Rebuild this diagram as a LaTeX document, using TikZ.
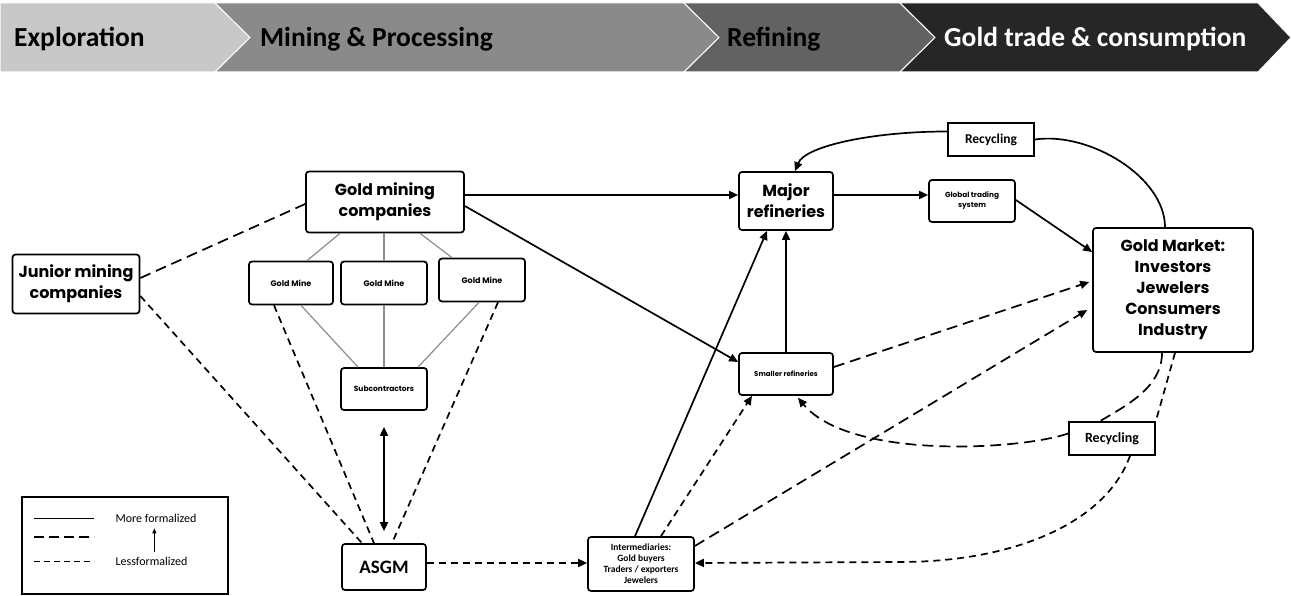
\documentclass[tikz,border=0pt]{standalone}
\usepackage{fontspec}
\setmainfont{Carlito}
\newfontfamily\geo{Poppins}
\usetikzlibrary{arrows.meta,calc}
\definecolor{bandA}{HTML}{C8C8C8}
\definecolor{bandB}{HTML}{8A8A8A}
\definecolor{bandC}{HTML}{626262}
\definecolor{bandD}{HTML}{262626}
\definecolor{linkgray}{HTML}{8C8C8C}
\tikzset{
  box/.style={draw, line width=1.7pt, rounded corners=3pt, align=center, inner sep=0pt},
  plainbox/.style={draw, line width=1.7pt, align=center, inner sep=0pt},
  band/.style={draw=white, line width=1pt},
  bandtext/.style={anchor=base west, inner sep=0pt, font=\fontsize{27.5}{32}\selectfont\bfseries},
  flow/.style={line width=1.7pt},
  tip/.style={-{Triangle[length=9pt,width=8pt]}},
  longdash/.style={line width=1.7pt, dash pattern=on 11pt off 6pt},
  shortdash/.style={line width=1.7pt, dash pattern=on 7pt off 5pt},
  mineline/.style={linkgray, line width=1.2pt},
}
\begin{document}
\begin{tikzpicture}[x=1pt,y=-1pt]
\useasboundingbox (0,0) rectangle (1291,596);

% value-chain banner
\fill[bandA, band] (0,3) -- (215,3) -- (250,37.5) -- (215,72) -- (0,72) -- cycle;
\fill[bandB, band] (215,3) -- (684,3) -- (719,37.5) -- (684,72) -- (215,72) -- (250,37.5) -- cycle;
\fill[bandC, band] (684,3) -- (900,3) -- (935,37.5) -- (900,72) -- (684,72) -- (719,37.5) -- cycle;
\fill[bandD, band] (900,3) -- (1258,3) -- (1291,37.5) -- (1258,72) -- (900,72) -- (935,37.5) -- cycle;
\node[bandtext] (t1) at (14,46.5) {Exploration};
\node[bandtext] (t2) at (260,46.5) {Mining \& Processing};
\node[bandtext] (t3) at (727,46.5) {Refining};
\node[bandtext, text=white] (t4) at (944,46.5) {Gold trade \& consumption};

% actors
\node[box, minimum width=127pt, minimum height=59pt, font=\geo\fontsize{16}{21}\selectfont\bfseries] (junior) at (76,284) {Junior mining\\companies};
\node[box, minimum width=158pt, minimum height=61pt, font=\geo\fontsize{16}{21}\selectfont\bfseries] (gmc) at (385,202) {Gold mining\\companies};
\node[box, minimum width=84pt, minimum height=43pt, font=\geo\fontsize{8}{10}\selectfont\bfseries] (mine1) at (291,283) {Gold Mine};
\node[box, minimum width=86pt, minimum height=43pt, font=\geo\fontsize{8}{10}\selectfont\bfseries] (mine2) at (384,283) {Gold Mine};
\node[box, minimum width=86pt, minimum height=43pt, font=\geo\fontsize{8}{10}\selectfont\bfseries] (mine3) at (482,280) {Gold Mine};
\node[box, minimum width=86pt, minimum height=42pt, font=\geo\fontsize{7.5}{9}\selectfont\bfseries] (sub) at (384,389) {Subcontractors};
\node[box, minimum width=84pt, minimum height=46pt, font=\fontsize{19}{22}\selectfont\bfseries] (asgm) at (384,567) {ASGM};
\node[box, minimum width=106pt, minimum height=54pt, font=\fontsize{9.5}{11}\selectfont\bfseries] (inter) at (641,564) {Intermediaries:\\Gold buyers\\Traders / exporters\\Jewelers};
\node[box, minimum width=94pt, minimum height=58pt, font=\geo\fontsize{16}{21}\selectfont\bfseries] (major) at (786,201) {Major\\refineries};
\node[box, minimum width=94pt, minimum height=42pt, font=\geo\fontsize{7}{9}\selectfont\bfseries] (smaller) at (786,374) {Smaller refineries};
\node[box, minimum width=86pt, minimum height=42pt, font=\geo\fontsize{7.3}{10}\selectfont\bfseries] (gts) at (972,201) {Global trading\\system};
\node[plainbox, minimum width=86pt, minimum height=33pt, font=\fontsize{13.5}{16}\selectfont\bfseries] (rec1) at (991,139.5) {Recycling};
\node[box, minimum width=160pt, minimum height=124pt, font=\geo\fontsize{16}{21}\selectfont\bfseries] (market) at (1173,290) {Gold Market:\\Investors\\Jewelers\\Consumers\\Industry};
\node[plainbox, minimum width=86pt, minimum height=33pt, font=\fontsize{14}{16}\selectfont\bfseries] (rec2) at (1112,438.5) {Recycling};

% ownership links between companies, mines and subcontractors
\draw[mineline] ($(gmc.south)+(-45,0)$) -- ($(mine1.north)+(16,0)$);
\draw[mineline] (mine2.north |- gmc.south) -- (mine2.north);
\draw[mineline] ($(gmc.south)+(35,0)$) -- ($(mine3.north)+(-30,0)$);
\draw[mineline] ($(mine1.south)+(10,0)$) -- ($(sub.north)+(-26,0)$);
\draw[mineline] (mine2.south) -- (sub.north);
\draw[mineline] ($(mine3.south)+(-3,0)$) -- ($(sub.north)+(34,0)$);

% formal flows
\draw[flow, tip] ($(gmc.east)+(0,-7)$) -- ($(major.west)+(0,-6)$);
\draw[flow, tip] ($(gmc.east)+(0,4)$) -- ($(smaller.west)+(0,-12)$);
\draw[flow, tip] ($(major.east)+(0,-6)$) -- ($(gts.west)+(0,-6)$);
\draw[flow, tip] ($(gts.east)+(0,-1)$) -- ($(market.west)+(0,-38)$);
\draw[flow, tip] (smaller.north) -- (major.south);
\draw[flow, tip] ($(inter.north)+(-6,0)$) -- ($(major.south)+(-19,0)$);
\draw[flow, {Triangle[length=9pt,width=8pt]}-{Triangle[length=9pt,width=8pt]}] ($(sub.south)+(0,16)$) -- ($(asgm.north)+(0,-12)$);
\draw[flow] ($(market.north)+(-8,0)$) .. controls +(0,-50) and +(55,-8) .. (rec1.east);
\draw[flow, tip] ($(rec1.west)+(0,-8)$) .. controls +(-75,0) and +(10,-25) .. ($(major.north)+(9,0)$);

% partly formal flows
\draw[longdash] ($(junior.east)+(0,-6)$) -- ($(gmc.west)+(0,2)$);
\draw[longdash, tip] ($(smaller.east)+(0,-7)$) -- ($(market.west)+(-3,-8)$);
\draw[longdash, tip] ($(inter.east)+(0,-18)$) -- ($(market.west)+(-5,20)$);
\draw[longdash] ($(market.south)+(-11,0)$) .. controls +(0,35) and +(25,-15) .. ($(rec2.north)+(-12,0)$);
\draw[longdash, tip] ($(rec2.west)+(0,-5)$) .. controls (1020,450) and (850,460) .. ($(smaller.south)+(12,2)$);

% informal flows
\draw[shortdash] ($(junior.east)+(0,12)$) -- ($(asgm.north)+(-22,0)$);
\draw[shortdash] ($(mine1.south)+(-17,0)$) -- ($(asgm.north)+(-10,0)$);
\draw[shortdash] ($(mine3.south)+(16,0)$) -- ($(asgm.north)+(8,0)$);
\draw[shortdash, tip] ($(asgm.east)+(0,-4)$) -- ($(asgm.east -| inter.west)+(0,-4)$);
\draw[shortdash, tip] ($(inter.north)+(20,0)$) -- ($(smaller.south)+(-34,0)$);
\draw[shortdash] ($(market.south)+(2,0)$) -- (rec2.north east);
\draw[shortdash, tip] ($(rec2.south)+(18,0)$) .. controls (1105,525) and (1010,562) .. (900,562) -- ($(inter.east)+(0,-1)$);

% legend
\node[draw, line width=1.3pt, minimum width=206pt, minimum height=97pt, inner sep=0pt] (legend) at (125,545.5) {};
\coordinate (l1a) at ($(legend.north west)+(13,22)$);
\coordinate (l1b) at ($(legend.north west)+(73,22)$);
\coordinate (l2a) at ($(legend.north west)+(13,41)$);
\coordinate (l2b) at ($(legend.north west)+(73,41)$);
\coordinate (l3a) at ($(legend.north west)+(13,65)$);
\coordinate (l3b) at ($(legend.north west)+(73,65)$);
\draw[line width=1.5pt] (l1a) -- (l1b);
\draw[line width=1.8pt, dash pattern=on 10pt off 5pt] (l2a) -- (l2b);
\draw[line width=1.5pt, dash pattern=on 6pt off 4pt] (l3a) -- (l3b);
\node[anchor=west, inner sep=0pt, font=\fontsize{12}{14}\selectfont] (more) at ($(legend.north west)+(94,22)$) {More formalized};
\node[anchor=west, inner sep=0pt, font=\fontsize{12}{14}\selectfont] (less) at ($(legend.north west)+(94,65)$) {Lessformalized};
\draw[line width=0.6pt, -{Triangle[length=5pt,width=4pt]}] ($(legend.north west)+(133,56)$) -- ($(legend.north west)+(133,32)$);
\end{tikzpicture}
\end{document}
